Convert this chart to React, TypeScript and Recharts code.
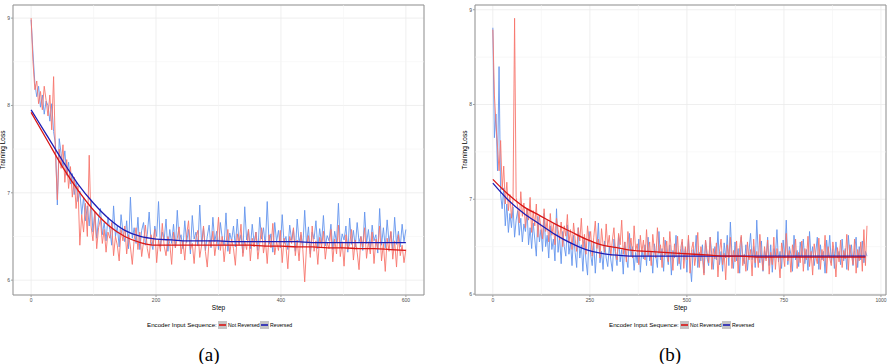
import React from 'react';
import { LineChart, Line, XAxis, YAxis, CartesianGrid, ReferenceLine, ReferenceArea } from 'recharts';

// Panel (a): raw loss sampled every 3 steps, smoothed curve every 25 steps
const STEP_A = 3;
const NOT_REV_A = [
  9.0, 8.5, 8.18, 8.28, 8.02, 8.16, 7.95, 8.22, 8.06, 7.88, 8.12, 7.72, 8.33, 7.45, 6.92, 7.5, 7.28, 7.55, 7.12, 7.38,
  7.05, 7.3, 6.95, 7.18, 6.82, 7.08, 6.4, 6.75, 6.55, 6.88, 6.5, 7.43, 6.62, 6.45, 6.78, 6.36, 6.6, 6.7, 6.42, 6.58,
  6.32, 6.55, 6.48, 6.66, 6.28, 6.5, 6.4, 6.22, 6.58, 6.45, 6.62, 6.3, 6.52, 6.38, 6.18, 6.47, 6.6, 6.35, 6.55, 6.27,
  6.44, 6.63, 6.36, 6.25, 6.52, 6.41, 6.58, 6.2, 6.46, 6.33, 6.65, 6.39, 6.28, 6.5, 6.42, 6.18, 6.55, 6.37, 6.48, 6.61,
  6.3, 6.45, 6.23, 6.52, 6.68, 6.35, 6.42, 6.19, 6.49, 6.57, 6.26, 6.4, 6.62, 6.33, 6.15, 6.46, 6.38, 6.56, 6.28, 6.44,
  6.72, 6.34, 6.5, 6.21, 6.43, 6.58, 6.3, 6.47, 6.36, 6.17, 6.53, 6.4, 6.64, 6.27, 6.45, 6.35, 6.58, 6.22, 6.48, 6.38,
  6.55, 6.24, 6.42, 6.6, 6.31, 6.46, 6.19, 6.52, 6.37, 6.65, 6.29, 6.44, 6.34, 6.57, 6.2, 6.48, 6.39, 6.13, 6.5, 6.42,
  6.6, 6.28, 6.46, 6.22, 6.55, 6.35, 5.98, 6.4, 6.51, 6.26, 6.62, 6.33, 6.45, 6.18, 6.49, 6.38, 6.56, 6.24, 6.43, 6.36,
  6.58, 6.21, 6.47, 6.3, 6.63, 6.27, 6.44, 6.16, 6.52, 6.35, 6.41, 6.58, 6.23, 6.46, 6.32, 6.12, 6.5, 6.38, 6.6, 6.25,
  6.44, 6.3, 6.55, 6.19, 6.47, 6.36, 6.62, 6.22, 6.42, 6.1, 6.48, 6.33, 6.56, 6.24, 6.45, 6.15, 6.52, 6.28, 6.4, 6.2,
  6.35,
];
const REV_A = [
  8.98, 8.6, 8.25, 8.1, 8.22, 7.98, 8.12, 7.9, 8.05, 8.0, 7.82, 8.02, 7.7, 7.55, 6.86, 7.62, 7.45, 7.3, 7.48, 7.2,
  7.35, 7.1, 7.22, 6.98, 7.12, 6.9, 7.02, 6.75, 6.95, 6.68, 6.85, 6.62, 6.92, 6.55, 6.78, 6.48, 6.7, 6.82, 6.52, 6.66,
  6.45, 6.72, 6.58, 6.4, 6.85, 6.5, 6.62, 6.38, 6.75, 6.55, 6.44, 6.68, 6.36, 6.95, 6.48, 6.6, 6.42, 6.72, 6.35, 6.57,
  6.66, 6.4, 6.52, 6.78, 6.44, 6.35, 6.62, 6.5, 6.9, 6.38, 6.55, 6.46, 6.7, 6.33, 6.58, 6.42, 6.64, 6.37, 6.8, 6.45,
  6.52, 6.36, 6.68, 6.43, 6.58, 6.3, 6.74, 6.47, 6.55, 6.39, 6.86, 6.41, 6.6, 6.34, 6.5, 6.63, 6.37, 6.72, 6.44, 6.56,
  6.35, 6.66, 6.48, 6.4, 6.77, 6.33, 6.54, 6.45, 6.62, 6.38, 6.7, 6.42, 6.52, 6.31, 6.84, 6.46, 6.58, 6.36, 6.64, 6.43,
  6.55, 6.34, 6.72, 6.47, 6.6, 6.39, 6.9, 6.41, 6.53, 6.32, 6.66, 6.44, 6.57, 6.37, 6.75, 6.42, 6.5, 6.35, 6.63, 6.46,
  6.58, 6.33, 6.7, 6.44, 6.52, 6.38, 6.8, 6.4, 6.61, 6.3, 6.55, 6.47, 6.68, 6.36, 6.59, 6.42, 6.74, 6.39, 6.51, 6.45,
  6.64, 6.35, 6.56, 6.43, 6.88, 6.37, 6.53, 6.46, 6.62, 6.32, 6.71, 6.41, 6.57, 6.38, 6.66, 6.44, 6.5, 6.34, 6.78, 6.42,
  6.58, 6.36, 6.63, 6.45, 6.52, 6.31, 6.82, 6.4, 6.6, 6.37, 6.69, 6.43, 6.55, 6.35, 6.72, 6.41, 6.56, 6.38, 6.64, 6.44,
  6.58,
];
const SMOOTH_STEP_A = 25;
const NOT_REV_SMOOTH_A = [
  7.92, 7.61, 7.3, 7.03, 6.8, 6.62, 6.5, 6.43, 6.4, 6.4, 6.4, 6.4, 6.4, 6.4, 6.4, 6.39, 6.39, 6.38, 6.38, 6.37,
  6.37, 6.36, 6.36, 6.35, 6.34,
];
const REV_SMOOTH_A = [
  7.95, 7.66, 7.37, 7.1, 6.88, 6.7, 6.57, 6.5, 6.47, 6.46, 6.45, 6.45, 6.45, 6.44, 6.44, 6.44, 6.44, 6.44, 6.43, 6.43,
  6.43, 6.43, 6.43, 6.43, 6.43,
];

// Panel (b): raw loss sampled every 4 steps, smoothed curve every 40 steps
const STEP_B = 4;
const NOT_REV_B = [
  8.79, 8.1, 7.8, 7.55, 7.3, 7.62, 7.1, 7.35, 6.95, 7.18, 6.88, 7.05, 6.8, 7.0, 8.91, 7.02, 6.92, 6.75, 7.08, 6.82, 6.96, 6.7, 6.9, 6.78, 7.02,
  6.65, 6.88, 6.72, 6.95, 6.6, 6.82, 6.7, 6.58, 6.9, 6.66, 6.78, 6.55, 6.85, 6.62, 6.74, 6.52, 6.8, 6.68, 6.57, 6.76, 6.5, 6.72, 6.61, 6.84, 6.54,
  6.68, 6.47, 6.75, 6.58, 6.45, 6.7, 6.56, 6.8, 6.49, 6.63, 6.42, 6.72, 6.55, 6.66, 6.4, 6.6, 6.77, 6.48, 6.58, 6.38, 6.69, 6.52, 6.44, 6.74, 6.5,
  6.62, 6.4, 6.57, 6.7, 6.45, 6.36, 6.64, 6.52, 6.78, 6.42, 6.55, 6.34, 6.66, 6.48, 6.59, 6.38, 6.72, 6.46, 6.53, 6.31, 6.62, 6.44, 6.57, 6.36, 6.68,
  6.4, 6.55, 6.3, 6.63, 6.47, 6.38, 6.7, 6.43, 6.52, 6.28, 6.6, 6.41, 6.56, 6.34, 6.66, 6.45, 6.25, 6.53, 6.39, 6.61, 6.32, 6.48, 6.58, 6.27, 6.5,
  6.36, 6.62, 6.22, 6.47, 6.55, 6.3, 6.42, 6.65, 6.28, 6.5, 6.38, 6.2, 6.57, 6.44, 6.33, 6.6, 6.26, 6.48, 6.37, 6.54, 6.18, 6.45, 6.58, 6.31, 6.43,
  6.15, 6.52, 6.38, 6.6, 6.27, 6.46, 6.34, 6.56, 6.22, 6.49, 6.62, 6.3, 6.42, 6.24, 6.55, 6.36, 6.47, 6.19, 6.58, 6.33, 6.45, 6.28, 6.63, 6.4, 6.25,
  6.5, 6.35, 6.57, 6.21, 6.44, 6.31, 6.6, 6.26, 6.48, 6.38, 6.17, 6.54, 6.42, 6.29, 6.64, 6.35, 6.46, 6.23, 6.52, 6.39, 6.58, 6.27, 6.44, 6.33, 6.56,
  6.24, 6.48, 6.36, 6.61, 6.29, 6.45, 6.2, 6.53, 6.4, 6.32, 6.59, 6.26, 6.47, 6.35, 6.62, 6.22, 6.5, 6.38, 6.3, 6.55, 6.43, 6.18, 6.49, 6.34, 6.57,
  6.28, 6.46, 6.37, 6.63, 6.25, 6.52, 6.41, 6.31, 6.58, 6.22, 6.47, 6.35, 6.55, 6.24, 6.68, 6.3, 6.72,
];
const REV_B = [
  8.81, 7.65, 7.9, 7.3, 8.4, 7.05, 6.9, 7.12, 6.72, 6.95, 6.65, 6.85, 6.7, 6.92, 6.6, 6.78, 6.88, 6.62, 6.8, 6.55, 6.74, 6.66, 6.9, 6.52, 6.7,
  6.48, 6.75, 6.58, 6.4, 6.82, 6.55, 6.68, 6.45, 6.85, 6.5, 6.62, 6.38, 6.72, 6.47, 6.58, 6.35, 6.9, 6.44, 6.6, 6.32, 6.66, 6.5, 6.4, 6.73, 6.42,
  6.55, 6.3, 6.62, 6.44, 6.28, 6.7, 6.38, 6.52, 6.24, 6.58, 6.35, 6.2, 6.66, 6.42, 6.3, 6.55, 6.22, 6.48, 6.75, 6.33, 6.45, 6.26, 6.56, 6.38, 6.29,
  6.5, 6.36, 6.24, 6.58, 6.41, 6.3, 6.62, 6.34, 6.47, 6.21, 6.55, 6.38, 6.28, 6.64, 6.4, 6.5, 6.25, 6.44, 6.33, 6.58, 6.23, 6.46, 6.37, 6.52, 6.3,
  6.6, 6.35, 6.45, 6.22, 6.53, 6.4, 6.28, 6.66, 6.36, 6.48, 6.24, 6.57, 6.42, 6.31, 6.52, 6.2, 6.46, 6.38, 6.62, 6.3, 6.44, 6.26, 6.55, 6.36, 6.48,
  6.23, 6.58, 6.32, 6.13, 6.47, 6.4, 6.62, 6.28, 6.44, 6.35, 6.52, 6.22, 6.57, 6.38, 6.3, 6.6, 6.42, 6.26, 6.5, 6.36, 6.66, 6.31, 6.45, 6.24, 6.54,
  6.38, 6.62, 6.3, 6.76, 6.42, 6.27, 6.55, 6.35, 6.48, 6.22, 6.6, 6.4, 6.32, 6.52, 6.25, 6.45, 6.64, 6.36, 6.5, 6.28, 6.78, 6.41, 6.33, 6.56, 6.24,
  6.46, 6.37, 6.6, 6.3, 6.52, 6.23, 6.48, 6.4, 6.68, 6.34, 6.45, 6.27, 6.57, 6.38, 6.78, 6.31, 6.5, 6.42, 6.24, 6.62, 6.36, 6.46, 6.29, 6.55, 6.4,
  6.58, 6.32, 6.47, 6.25, 6.66, 6.38, 6.5, 6.3, 6.44, 6.6, 6.26, 6.52, 6.36, 6.45, 6.22, 6.57, 6.4, 6.62, 6.33, 6.48, 6.27, 6.55, 6.38, 6.45, 6.31,
  6.58, 6.35, 6.48, 6.26, 6.62, 6.4, 6.52, 6.3, 6.46, 6.6, 6.28, 6.5, 6.36, 6.56, 6.33, 6.45, 6.4,
];
const SMOOTH_STEP_B = 40;
const NOT_REV_SMOOTH_B = [
  7.21, 7.05, 6.92, 6.83, 6.74, 6.66, 6.58, 6.52, 6.49, 6.46, 6.45, 6.44, 6.43, 6.42, 6.41, 6.4, 6.4, 6.39, 6.39, 6.39,
  6.39, 6.39, 6.39, 6.39, 6.39,
];
const REV_SMOOTH_B = [
  7.17, 6.99, 6.85, 6.74, 6.63, 6.54, 6.47, 6.43, 6.41, 6.4, 6.4, 6.4, 6.4, 6.4, 6.4, 6.4, 6.4, 6.4, 6.4, 6.4,
  6.4, 6.4, 6.4, 6.4, 6.4,
];

const X_TICKS_A = [0, 200, 400, 600];
const X_MINOR_A = [100, 300, 500];
const X_TICKS_B = [0, 250, 500, 750, 1000];
const X_MINOR_B = [125, 375, 625, 875];
const Y_TICKS = [6, 7, 8, 9];
const Y_MINOR = [6.5, 7.5, 8.5];

const RAW_RED = '#F7766D';
const RAW_BLUE = '#6495ED';
const SMOOTH_RED = '#D81414';
const SMOOTH_BLUE = '#1C1CB4';
const FONT = '"Liberation Sans", Arial, sans-serif';

const toRows = (values: number[], step: number) => values.map((loss, i) => ({ step: i * step, loss }));

interface PanelProps {
  notRev: number[];
  rev: number[];
  notRevSmooth: number[];
  revSmooth: number[];
  step: number;
  smoothStep: number;
  xDomain: [number, number];
  yDomain: [number, number];
  xTicks: number[];
  xMinor: number[];
  marginLeft: number;
  marginRight: number;
}

function LossPanel(p: PanelProps) {
  const tickStyle = { fontSize: 5, fill: '#4D4D4D', fontFamily: FONT };
  return (
    <LineChart width={447} height={313} margin={{ top: 5, right: p.marginRight, left: p.marginLeft, bottom: 0 }}>
      <CartesianGrid stroke="#EBEBEB" strokeWidth={0.8} />
      {p.xMinor.map((v) => (
        <ReferenceLine key={'mx' + v} x={v} stroke="#F4F4F4" strokeWidth={0.6} />
      ))}
      {Y_MINOR.map((v) => (
        <ReferenceLine key={'my' + v} y={v} stroke="#F4F4F4" strokeWidth={0.6} />
      ))}
      <XAxis
        type="number"
        dataKey="step"
        domain={p.xDomain}
        ticks={p.xTicks}
        allowDataOverflow
        axisLine={false}
        tickSize={2}
        tickMargin={1}
        tickLine={{ stroke: '#A0A0A0' }}
        tick={tickStyle}
        height={18}
        label={{ value: 'Step', position: 'insideBottom', offset: 3, fontSize: 6.5, fill: '#000', fontFamily: FONT }}
      />
      <YAxis
        type="number"
        domain={p.yDomain}
        ticks={Y_TICKS}
        allowDataOverflow
        axisLine={false}
        width={13}
        tickSize={2}
        tickMargin={1}
        tickLine={{ stroke: '#A0A0A0' }}
        tick={tickStyle}
        label={{
          value: 'Training Loss', angle: -90, position: 'insideLeft', offset: 3,
          fontSize: 6.5, fill: '#000', fontFamily: FONT, style: { textAnchor: 'middle' },
        }}
      />
      <Line data={toRows(p.rev, p.step)} dataKey="loss" type="linear" stroke={RAW_BLUE} strokeOpacity={0.9}
        strokeWidth={1} dot={false} isAnimationActive={false} />
      <Line data={toRows(p.notRev, p.step)} dataKey="loss" type="linear" stroke={RAW_RED} strokeOpacity={0.9}
        strokeWidth={1} dot={false} isAnimationActive={false} />
      <Line data={toRows(p.revSmooth, p.smoothStep)} dataKey="loss" type="monotone" stroke={SMOOTH_BLUE}
        strokeWidth={1.3} dot={false} isAnimationActive={false} />
      <Line data={toRows(p.notRevSmooth, p.smoothStep)} dataKey="loss" type="monotone" stroke={SMOOTH_RED}
        strokeWidth={1.3} dot={false} isAnimationActive={false} />
      <ReferenceArea x1={p.xDomain[0]} x2={p.xDomain[1]} y1={p.yDomain[0]} y2={p.yDomain[1]}
        fill="none" fillOpacity={0} stroke="#939393" strokeWidth={1} ifOverflow="visible" />
    </LineChart>
  );
}

function LegendRow({ x }: { x: number }) {
  return (
    <g fontFamily={FONT}>
      <text x={x} y={327} fontSize={6.2} fill="#000">Encoder Input Sequence:</text>
      <rect x={x + 71} y={321} width={9} height={8} fill="#C4C4C4" />
      <line x1={x + 72} x2={x + 79} y1={325} y2={325} stroke={SMOOTH_RED} strokeWidth={1.6} />
      <text x={x + 81} y={327} fontSize={5.2} fill="#000">Not Reversed</text>
      <rect x={x + 113} y={321} width={9} height={8} fill="#C4C4C4" />
      <line x1={x + 114} x2={x + 121} y1={325} y2={325} stroke={SMOOTH_BLUE} strokeWidth={1.6} />
      <text x={x + 123} y={327} fontSize={5.2} fill="#000">Reversed</text>
    </g>
  );
}

export default function App() {
  return (
    <div style={{ position: 'absolute', left: 0, top: 0, width: 894, height: 364, background: '#fff' }}>
      <div style={{ position: 'absolute', left: 0, top: 0 }}>
        <LossPanel notRev={NOT_REV_A} rev={REV_A} notRevSmooth={NOT_REV_SMOOTH_A} revSmooth={REV_SMOOTH_A}
          step={STEP_A} smoothStep={SMOOTH_STEP_A} xDomain={[-29, 629]} yDomain={[5.83, 9.15]}
          xTicks={X_TICKS_A} xMinor={X_MINOR_A} marginLeft={0} marginRight={23} />
      </div>
      <div style={{ position: 'absolute', left: 447, top: 0 }}>
        <LossPanel notRev={NOT_REV_B} rev={REV_B} notRevSmooth={NOT_REV_SMOOTH_B} revSmooth={REV_SMOOTH_B}
          step={STEP_B} smoothStep={SMOOTH_STEP_B} xDomain={[-46, 1013]} yDomain={[5.99, 9.05]}
          xTicks={X_TICKS_B} xMinor={X_MINOR_B} marginLeft={15} marginRight={8} />
      </div>
      <svg width={894} height={364} style={{ position: 'absolute', left: 0, top: 0, pointerEvents: 'none' }}>
        <LegendRow x={147} />
        <LegendRow x={609} />
        <text x={209} y={361} fontSize={19} textAnchor="middle" fontFamily='"Liberation Serif", serif'>(a)</text>
        <text x={670} y={361} fontSize={19} textAnchor="middle" fontFamily='"Liberation Serif", serif'>(b)</text>
      </svg>
    </div>
  );
}
